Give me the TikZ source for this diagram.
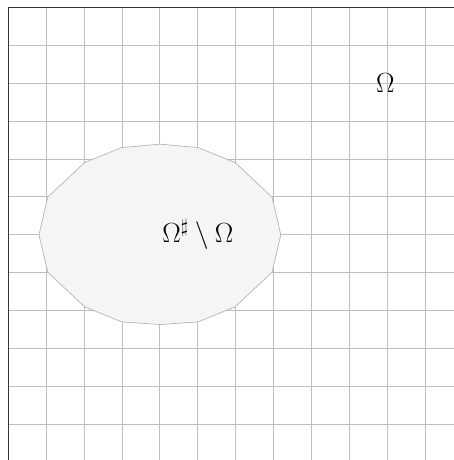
\documentclass[tikz,border=0pt]{standalone}
\usepackage{amsmath,amssymb}
\usepackage{xcolor}
\usepackage{tikz}
\usetikzlibrary{calc}

\begin{document}
\begin{tikzpicture}[scale=1,font=\fontsize{22.5}{27}\selectfont]
	\useasboundingbox (-0.219,0.193) rectangle (11.76,-11.945);
	\clip (-0.219,0.193) rectangle (11.76,-11.945);
	
	\draw[gray!50,line width=0.6pt] (0,-12) grid (12,0);
	\draw[black!80,line width=1pt] (0,-12) rectangle (12,0);
	
	\draw[fill=gray!8,draw=gray!60,line width=0.5pt]
	(7.19,-6) -- (6.96,-5.01) -- (5.99,-4.10) -- (5.01,-3.70) -- (4,-3.61)
	-- (2.99,-3.70) -- (2.01,-4.10) -- (1.04,-5.01) -- (0.81,-6)
	-- (1.04,-6.99) -- (2.01,-7.90) -- (2.99,-8.30) -- (4,-8.37)
	-- (5.01,-8.30) -- (5.99,-7.90) -- (6.96,-6.99) -- cycle;
	
	\node (omega) at (9.95,-2) {$\Omega$};
	\node (diff) at (5,-6) {$\Omega^{\sharp}\setminus\Omega$};
\end{tikzpicture}
\end{document}
